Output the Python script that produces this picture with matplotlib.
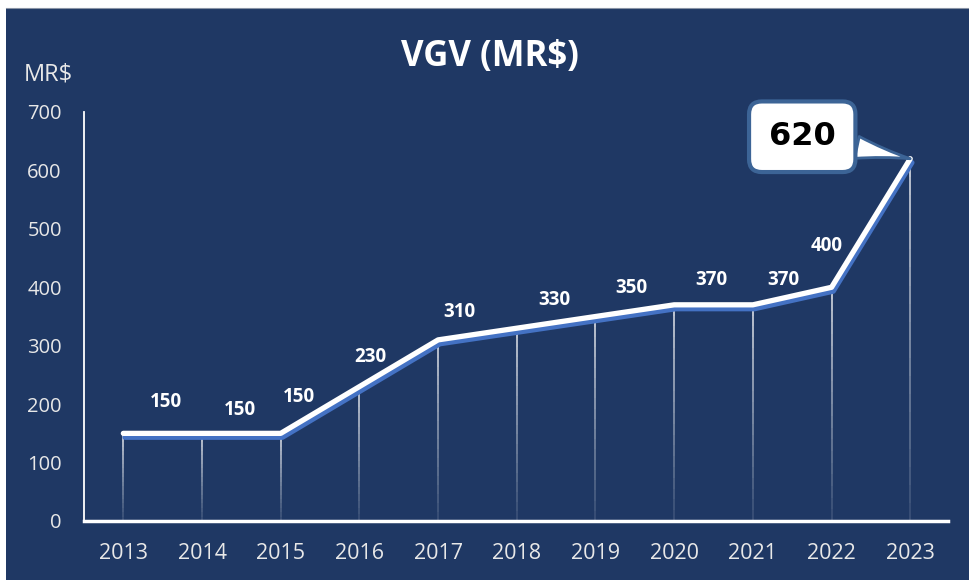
import matplotlib
matplotlib.use("Agg")
import matplotlib.pyplot as plt
import matplotlib.patheffects as pe
from matplotlib.patches import Rectangle
from matplotlib.collections import LineCollection
import numpy as np

# data
years = ["2013", "2014", "2015", "2016", "2017", "2018", "2019", "2020", "2021", "2022", "2023"]
vgv = [150, 150, 150, 230, 310, 330, 350, 370, 370, 400, 620]
yticks = [0, 100, 200, 300, 400, 500, 600, 700]

# label offsets in pixels (dx, dy)
label_off = [(43, 31), (38, 23), (18, 36), (11, 30), (21, 28), (38, 28),
             (36, 28), (37, 25), (31, 25), (-5, 41)]

navy = "#1F3864"
blue = "#4472C4"
font = "Open Sans"

fig = plt.figure(figsize=(9.69, 5.8), dpi=100, facecolor="white")
fig.patches.append(Rectangle((6 / 969, 0), 1, 1 - 8 / 580, transform=fig.transFigure,
                             facecolor=navy, edgecolor="none", zorder=-5))
fig.add_artist(plt.Line2D([6 / 969, 1], [1 - 8 / 580, 1 - 8 / 580], color="#8a94a6", lw=0.8))

ax = fig.add_axes([84 / 969, 59 / 580, 864 / 969, 409 / 580])
ax.set_facecolor("none")
x = np.arange(len(years))

# drop lines fading toward the base
segs, cols = [], []
n = 20
for xi, yi in zip(x, vgv):
    edges = np.linspace(yi, 0, n + 1)
    for k in range(n):
        segs.append([(xi, edges[k]), (xi, edges[k + 1])])
        cols.append((1, 1, 1, 0.9 - 0.8 * k / n))
ax.add_collection(LineCollection(segs, colors=cols, linewidths=1.1, zorder=2))

ax.plot(x, vgv, color="white", lw=3.8, solid_capstyle="round", solid_joinstyle="round", zorder=3,
        path_effects=[pe.SimpleLineShadow(offset=(1.2, -2.8), shadow_color=blue, alpha=1),
                      pe.Normal()])

for i, (xi, yi) in enumerate(zip(x[:-1], vgv[:-1])):
    dx, dy = label_off[i]
    ax.annotate(str(yi), (xi, yi), xytext=(dx, dy), textcoords="offset pixels",
                ha="center", va="center", color="white", fontsize=13.5,
                fontweight="bold", family=font, zorder=4)

# callout for the last value
ax.annotate(str(vgv[-1]), (x[-1], vgv[-1]), xytext=(-108, 22), textcoords="offset pixels",
            ha="center", va="center", color="black", fontsize=23, fontweight="bold",
            family="DejaVu Sans", zorder=5,
            bbox=dict(boxstyle="round,pad=0.62,rounding_size=0.4", fc="white", ec="#3C6496", lw=3),
            arrowprops=dict(arrowstyle="wedge,tail_width=0.7,shrink_factor=0.4", fc="white",
                            ec="#3C6496", lw=2, relpos=(1, 0.3), shrinkA=0, shrinkB=0))

ax.set_xlim(-0.5, 10.48)
ax.set_ylim(0, 700)
ax.set_xticks(x)
ax.set_xticklabels(years)
ax.set_yticks(yticks)
ax.tick_params(length=0, colors="#e8e8e8")
ax.tick_params(axis="x", pad=16, labelsize=15.5)
ax.tick_params(axis="y", pad=16, labelsize=14.5)
for lab in ax.get_xticklabels() + ax.get_yticklabels():
    lab.set_family(font)
ax.spines[["top", "right"]].set_visible(False)
ax.spines["left"].set_color("white")
ax.spines["left"].set_linewidth(1.3)
ax.spines["bottom"].set_color("white")
ax.spines["bottom"].set_linewidth(2.5)

fig.text(490 / 969, 1 - 57 / 580, "VGV (MR$)", ha="center", va="center", color="white",
         fontsize=25, fontweight="bold", family=font)
fig.text(24 / 969, 1 - 75 / 580, "MR$", ha="left", va="center", color="#e8e8e8",
         fontsize=17, family=font)

fig.savefig("out.png", dpi=100, facecolor="white")
